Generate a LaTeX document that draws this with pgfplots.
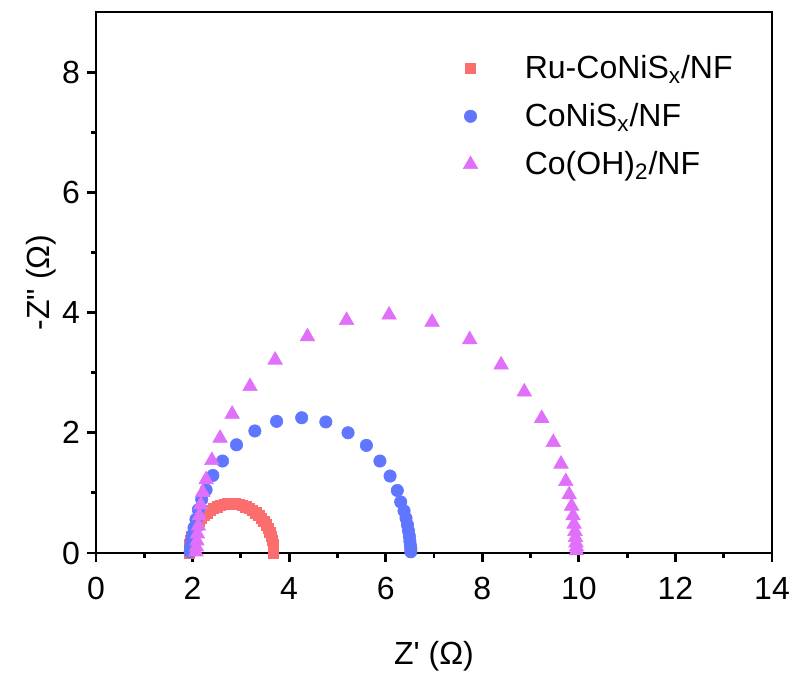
\documentclass[border=0pt]{standalone}
\usepackage{pgfplots}
\pgfplotsset{compat=1.18}
\usepackage{fontspec}
\setmainfont{Liberation Sans}[Ligatures=TeXOff]
\definecolor{cred}{RGB}{252,110,110}
\definecolor{cblue}{RGB}{96,118,255}
\definecolor{cviol}{RGB}{224,112,250}
\begin{document}
\begin{tikzpicture}
\useasboundingbox (-48pt,-60pt) rectangle (348pt,276.5pt);
\begin{axis}[
  scale only axis, width=338pt, height=270.5pt,
  xmin=0, xmax=14, ymin=0, ymax=9,
  xtick={0,2,...,14}, ytick={0,2,...,8},
  minor xtick={1,3,...,13}, minor ytick={1,3,5,7},
  xtick pos=bottom, ytick pos=left,
  tick align=outside,
  major tick length=4.5pt, minor tick length=2.5pt,
  axis line style={line width=1.4pt},
  every tick/.style={line width=1.4pt, black},
  /pgf/number format/assume math mode=true,
  tick label style={font=\fontsize{16}{19}\selectfont},
  xticklabel style={yshift=-4pt},
  label style={font=\fontsize{16}{19}\selectfont},
  xlabel={Z' (Ω)}, ylabel={-Z" (Ω)},
  xlabel style={yshift=-14pt},
  ylabel style={yshift=-4pt},
  legend style={draw=none, fill=none, at={(0.519,0.936)}, anchor=north west,
    font=\fontsize{16}{19}\selectfont, row sep=7pt},
  legend cell align=left,
  legend image code/.code={\path (0,0) (33.5pt,0); \draw[#1] plot coordinates {(8.5pt,0pt)};},
]
\addplot[only marks, mark=square*, mark size=2.6pt, color=cred, line width=0.3pt, mark options={fill=cred, draw=cred}] coordinates {
(1.930,0.0)(1.933,0.0715)(1.943,0.142)(1.960,0.212)(1.983,0.280)(2.012,0.347)(2.047,0.41)(2.088,0.470)(2.135,0.527)(2.186,0.580)(2.242,0.628)(2.303,0.672)(2.368,0.710)(2.435,0.743)(2.506,0.771)(2.578,0.792)(2.653,0.808)(2.729,0.817)(2.805,0.82)(2.881,0.817)(2.957,0.808)(3.032,0.792)(3.104,0.771)(3.175,0.743)(3.243,0.710)(3.307,0.672)(3.368,0.628)(3.424,0.580)(3.475,0.527)(3.522,0.470)(3.563,0.41)(3.598,0.347)(3.627,0.280)(3.650,0.212)(3.667,0.142)(3.677,0.0715)(3.675,0.0)
};
\addlegendentry{Ru-CoNiS\textsubscript{x}/NF}
\addplot[only marks, mark=*, mark size=3.1pt, color=cblue, line width=0.3pt, mark options={fill=cblue, draw=cblue}] coordinates {
(1.95,0.02)(1.96,0.10)(1.98,0.20)(2.00,0.30)(2.03,0.42)(2.07,0.56)(2.12,0.72)(2.19,0.89)(2.28,1.05)(2.42,1.29)(2.62,1.53)(2.91,1.80)(3.29,2.03)(3.74,2.19)(4.26,2.25)(4.76,2.18)(5.22,2.00)(5.60,1.79)(5.88,1.53)(6.09,1.28)(6.24,1.04)(6.31,0.85)(6.38,0.70)(6.42,0.58)(6.45,0.47)(6.47,0.37)(6.49,0.28)(6.50,0.20)(6.51,0.13)(6.52,0.07)(6.52,0.02)
};
\addlegendentry{CoNiS\textsubscript{x}/NF}
\addplot[only marks, mark=triangle*, mark size=4.2pt, color=cviol, line width=0.3pt, mark options={fill=cviol, draw=cviol}] coordinates {
(2.07,0.02)(2.08,0.10)(2.09,0.20)(2.10,0.32)(2.12,0.45)(2.14,0.62)(2.17,0.80)(2.21,1.01)(2.28,1.22)(2.40,1.54)(2.57,1.91)(2.82,2.31)(3.19,2.77)(3.71,3.21)(4.38,3.60)(5.19,3.87)(6.07,3.96)(6.96,3.84)(7.74,3.55)(8.39,3.13)(8.87,2.68)(9.23,2.24)(9.47,1.84)(9.63,1.48)(9.73,1.19)(9.80,0.97)(9.85,0.78)(9.88,0.62)(9.90,0.48)(9.92,0.36)(9.93,0.26)(9.94,0.17)(9.95,0.10)(9.95,0.04)
};
\addlegendentry{Co(OH)\textsubscript{2}/NF}
\end{axis}
\end{tikzpicture}
\end{document}
